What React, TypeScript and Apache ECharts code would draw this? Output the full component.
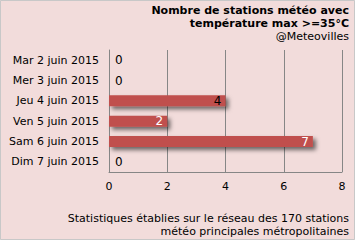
import React, { useEffect, useRef } from "react";
import * as echarts from "echarts";

const categories = ["Mar 2 juin 2015", "Mer 3 juin 2015", "Jeu 4 juin 2015", "Ven 5 juin 2015", "Sam 6 juin 2015", "Dim 7 juin 2015"];
const values = [0, 0, 4, 2, 7, 0];
const labelColors = ["#000", "#000", "#000", "#fff", "#fff", "#000"];
const xTicks = [0, 2, 4, 6, 8];
const titleLines = ["Nombre de stations météo avec", "température max >=35°C"];
const subTitle = "@Meteovilles";
const footLines = ["Statistiques établies sur le réseau des 170 stations", "météo principales métropolitaines"];

const FONT = "DejaVu Sans";

function textEl(text: string, y: number, bold: boolean) {
  return {
    type: "text",
    x: 349,
    y,
    style: {
      text,
      font: `${bold ? "bold " : ""}11px ${FONT}`,
      fill: "#000",
      align: "right",
      verticalAlign: "middle",
    },
  };
}

export default function App() {
  const ref = useRef<HTMLDivElement>(null);
  useEffect(() => {
    if (!ref.current) return;
    const chart = echarts.init(ref.current, null, { renderer: "svg" });
    chart.setOption({
      animation: false,
      backgroundColor: "#f2dcdb",
      textStyle: { fontFamily: FONT },
      grid: { left: 109, right: 13, top: 50, bottom: 68 },
      xAxis: {
        type: "value",
        min: xTicks[0],
        max: xTicks[xTicks.length - 1],
        interval: 2,
        axisLine: { show: true, lineStyle: { color: "#868686" } },
        axisTick: { show: false },
        splitLine: { show: true, lineStyle: { color: "#868686" } },
        axisLabel: { color: "#000", fontSize: 11, fontFamily: FONT, margin: 9 },
      },
      yAxis: {
        type: "category",
        inverse: true,
        data: categories,
        axisLine: { show: true, lineStyle: { color: "#868686" } },
        axisTick: { show: false },
        axisLabel: { color: "#000", fontSize: 11, fontFamily: FONT, margin: 10 },
      },
      series: [
        {
          type: "bar",
          barWidth: 11,
          data: values.map((v, i) => ({
            value: v,
            label: {
              show: true,
              position: v === 0 ? "right" : "insideRight",
              color: labelColors[i],
              fontSize: 12,
              fontFamily: FONT,
              distance: v === 0 ? 6 : 4,
            },
          })),
          itemStyle: {
            color: "#c0504d",
            shadowColor: "rgba(0,0,0,0.55)",
            shadowBlur: 4,
            shadowOffsetX: 3,
            shadowOffsetY: 3,
          },
        },
      ],
      graphic: [
        {
          type: "rect",
          shape: { x: 0.5, y: 0.5, width: 354, height: 239 },
          style: { fill: "none", stroke: "#c8c8c8", lineWidth: 1 },
        },
        textEl(titleLines[0], 10, true),
        textEl(titleLines[1], 23, true),
        textEl(subTitle, 36, false),
        textEl(footLines[0], 218, false),
        textEl(footLines[1], 231, false),
      ],
    });
    return () => chart.dispose();
  }, []);
  return <div ref={ref} style={{ position: "absolute", left: 0, top: 0, width: 355, height: 240 }} />;
}
